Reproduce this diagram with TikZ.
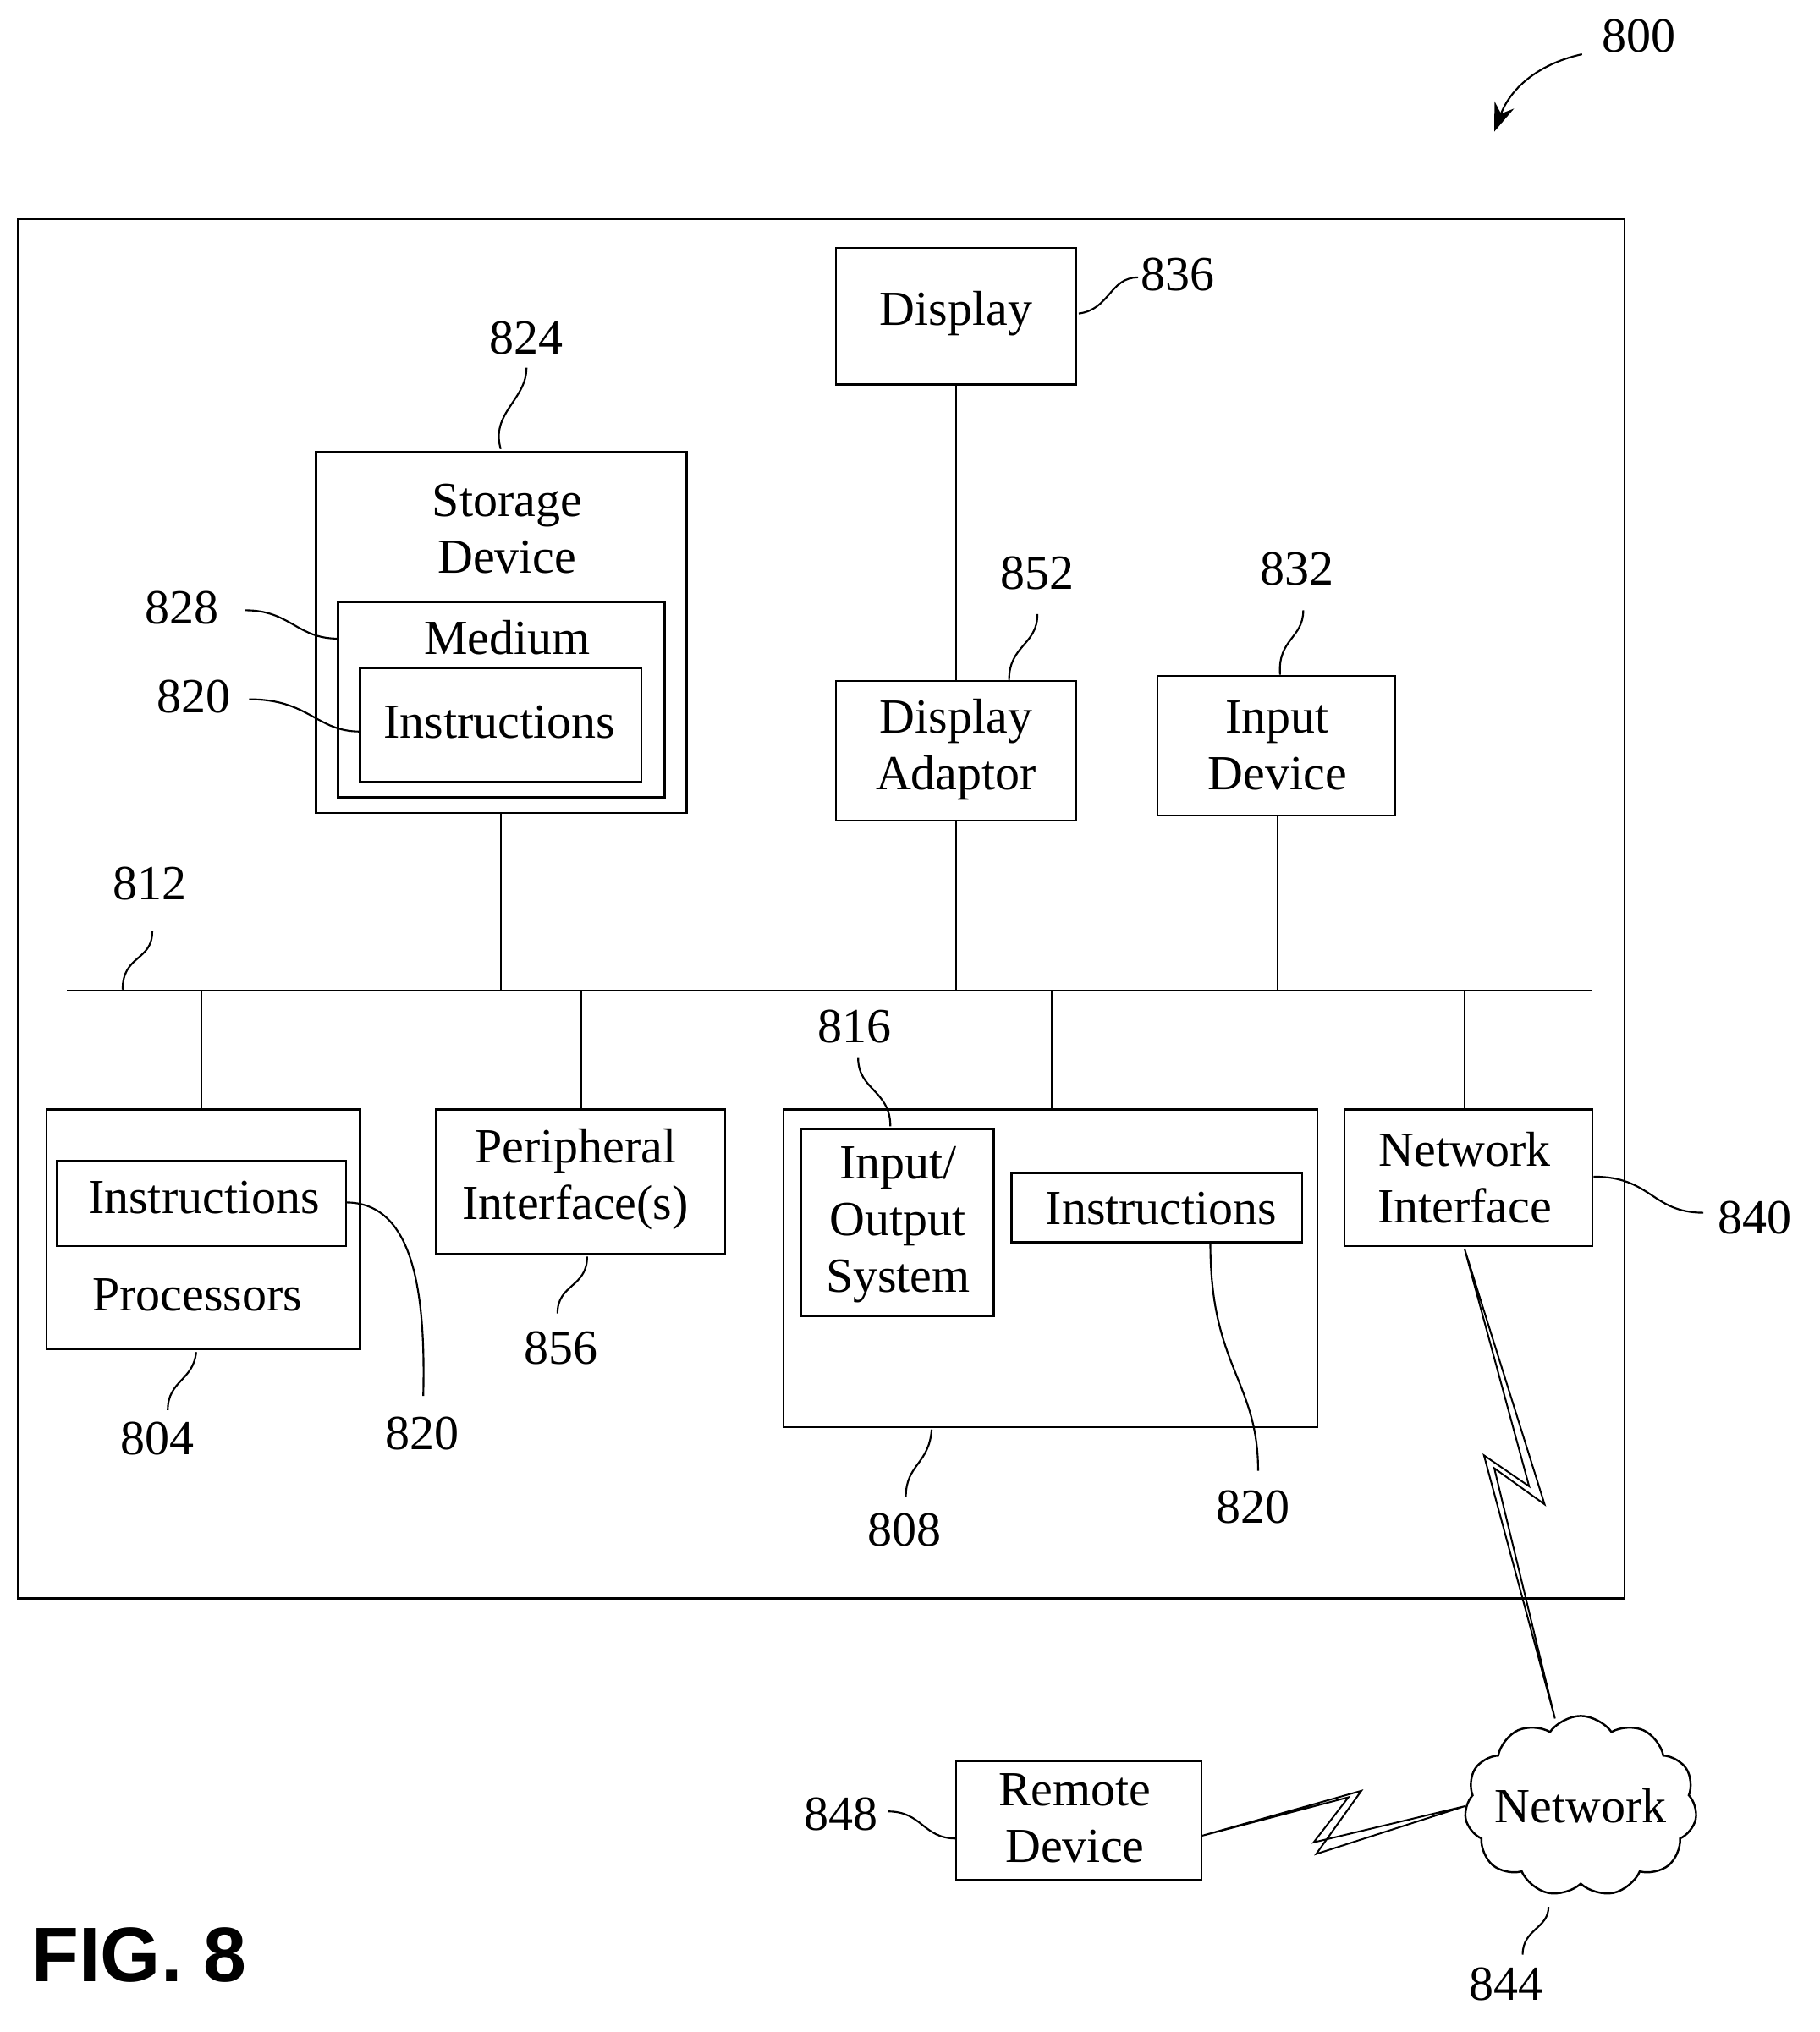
\documentclass[tikz,border=0pt]{standalone}
\usepackage{fontspec}
\setmainfont{Liberation Serif}
\newfontfamily\figfont{Liberation Sans}
\usetikzlibrary{shapes.symbols,arrows.meta}
\begin{document}
\begin{tikzpicture}[x=1pt,y=-1pt,line width=1.6pt,
  box/.style={draw,rectangle,inner sep=0pt},
  txt/.style={font=\fontsize{38}{44}\selectfont,align=center,inner sep=0pt},
  lab/.style={font=\fontsize{38}{44}\selectfont,inner sep=0pt},
  lead/.style={line width=1.4pt}]
\useasboundingbox (0,0) rectangle (1410,1575);
% outer
\draw (14,170) rectangle (1259,1239);
% Display
\draw (648,192) rectangle (834,298);
\node[txt] (disp) at (741,243) {Display};
\node[lab] (l836) at (913,213) {836};
\draw[lead] (836,243) .. controls (860,240) and (860,215) .. (882,215);
% storage
\draw (245,350) rectangle (532,630);
\node[txt] (stor) at (393,410) {Storage\\Device};
\draw (262,467) rectangle (515,618);
\node[txt] (med) at (393,494) {Medium};
\draw (279,518) rectangle (497,606);
\node[txt] (ins1) at (387,560) {Instructions};
\node[lab] (l824) at (408,262) {824};
\draw[lead] (388,348) .. controls (380,320) and (408,310) .. (408,285);
\node[lab] (l828) at (141,471) {828};
\draw[lead] (190,473) .. controls (225,473) and (230,495) .. (262,495);
\node[lab] (l820a) at (150,540) {820};
\draw[lead] (193,542) .. controls (240,542) and (245,567) .. (279,567);
% display adaptor
\draw (648,528) rectangle (834,636);
\node[txt] (dadp) at (741,581) {Display\\Adaptor};
\node[lab] (l852) at (804,444) {852};
\draw[lead] (782,527) .. controls (782,500) and (804,500) .. (804,476);
% input device
\draw (897,524) rectangle (1081,632);
\node[txt] (inpd) at (990,578) {Input\\Device};
\node[lab] (l832) at (1005,441) {832};
\draw[lead] (992,523) .. controls (990,495) and (1010,495) .. (1010,473);
% bus
\draw (52,768) -- (1234,768);
\node[lab] (l812) at (116,685) {812};
\draw[lead] (95,767) .. controls (95,740) and (118,745) .. (118,722);
\draw (741,298) -- (741,528);
\draw (741,636) -- (741,768);
\draw (388,630) -- (388,768);
\draw (990,632) -- (990,768);
\draw (156,768) -- (156,860);
\draw (450,768) -- (450,860);
\draw (815,768) -- (815,860);
\draw (1135,768) -- (1135,860);
% processors
\draw (36,860) rectangle (279,1046);
\draw (44,900) rectangle (268,966);
\node[txt] (ins2) at (158,928) {Instructions};
\node[txt] (proc) at (153,1004) {Processors};
\node[lab] (l804) at (122,1115) {804};
\draw[lead] (152,1048) .. controls (150,1070) and (130,1070) .. (130,1093);
\node[lab] (l820b) at (327,1111) {820};
\draw[lead] (268,932) .. controls (320,932) and (330,1000) .. (328,1082);
% peripheral
\draw (338,860) rectangle (562,972);
\node[txt] (peri) at (446,914) {Peripheral\\Interface(s)};
\node[lab] (l856) at (435,1045) {856};
\draw[lead] (455,974) .. controls (455,998) and (432,995) .. (432,1018);
% IO
\draw (607,860) rectangle (1021,1106);
\draw (621,875) rectangle (770,1020);
\node[txt] (ios) at (696,949) {Input/\\Output\\System};
\draw (784,909) rectangle (1009,963);
\node[txt] (ins3) at (900,937) {Instructions};
\node[lab] (l816) at (662,796) {816};
\draw[lead] (690,873) .. controls (690,845) and (665,845) .. (665,820);
\node[lab] (l808) at (701,1186) {808};
\draw[lead] (722,1108) .. controls (720,1135) and (702,1135) .. (702,1160);
\node[lab] (l820c) at (971,1168) {820};
\draw[lead] (938,964) .. controls (938,1060) and (975,1070) .. (975,1140);
% network interface
\draw (1042,860) rectangle (1234,966);
\node[txt] (ni) at (1135,913) {Network\\Interface};
\node[lab] (l840) at (1360,944) {840};
\draw[lead] (1235,912) .. controls (1280,912) and (1280,940) .. (1320,940);
% network
\node[cloud,draw,cloud puffs=11,cloud puff arc=110,aspect=1.3,minimum width=180pt,minimum height=140pt,inner sep=0pt] (net) at (1225,1400) {};
\node[txt] at (1225,1400) {Network};
\node[lab] (l844) at (1167,1538) {844};
\draw[lead] (1200,1478) .. controls (1200,1495) and (1180,1495) .. (1180,1515);
\draw[line width=1.3pt,line join=miter] (1135,968) -- (1197,1166) -- (1158,1138) -- (1205,1332) -- (1150,1128) -- (1185,1152) -- cycle;
% remote
\draw (741,1365) rectangle (931,1457);
\node[txt] (rem) at (833,1409) {Remote\\Device};
\node[lab] (l848) at (652,1406) {848};
\draw[lead] (688,1404) .. controls (715,1404) and (715,1425) .. (741,1425);
\draw[line width=1.3pt] (931,1423) -- (1055,1388) -- (1020,1437) -- (1135,1400) -- (1018,1428) -- (1045,1393) -- cycle;
% 800
\node[lab] (l800) at (1270,28) {800};
\draw[lead,-{Stealth[length=22pt,width=16pt]}] (1226,42) .. controls (1190,50) and (1170,70) .. (1158,102);
\node[font=\figfont\bfseries\fontsize{60}{66}\selectfont,inner sep=0pt] (fig) at (108,1515) {FIG. 8};
\end{tikzpicture}
\end{document}
